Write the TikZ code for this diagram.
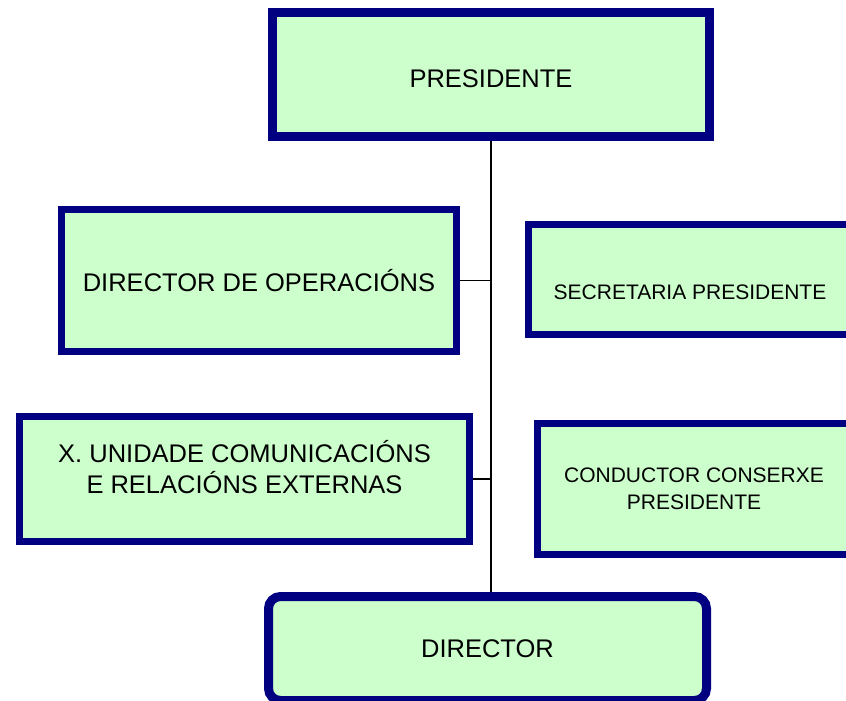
\documentclass[tikz,border=0pt]{standalone}
\usepackage{fontspec}
\setmainfont{Liberation Sans}
\definecolor{boxfill}{HTML}{CCFFCC}
\definecolor{boxline}{HTML}{000080}
\begin{document}
\begin{tikzpicture}[x=1pt,y=-1pt,
  orgbox/.style={draw=boxline, fill=boxfill, line width=7pt, inner sep=0pt, align=center,
                 font=\fontsize{25.5}{31}\selectfont},
  bigbox/.style={orgbox, line width=9pt},
  smalltext/.style={font=\fontsize{21}{26.5}\selectfont},
  link/.style={draw=black, line width=1.8pt}]
\useasboundingbox (0,0) rectangle (846,701);
\clip (0,0) rectangle (846,701);
\node[bigbox, minimum width=437pt, minimum height=124pt, text height=27pt, text depth=0pt] (pres) at (491,74.5) {PRESIDENTE};
\node[orgbox, minimum width=395pt, minimum height=142pt] (dirop) at (259,280.5) {DIRECTOR DE OPERACIÓNS};
\node[orgbox, minimum width=450pt, minimum height=125pt] (xu) at (244.5,479) {X. UNIDADE COMUNICACIÓNS\\ E RELACIÓNS EXTERNAS\\[-7pt]\mbox{}};
\node[orgbox, smalltext, minimum width=323pt, minimum height=110pt, text height=40pt, text depth=0pt] (secr) at (690,279.5) {SECRETARIA PRESIDENTE};
\node[orgbox, smalltext, minimum width=313pt, minimum height=131pt] (cond) at (694,489) {CONDUCTOR CONSERXE\\ PRESIDENTE};
\node[bigbox, rounded corners=12pt, minimum width=438pt, minimum height=104pt] (dir) at (487.5,648.5) {DIRECTOR};
\draw[link] (pres.south) -- (pres.south |- dir.north);
\draw[link] (dirop.east) -- (dirop.east -| pres.south);
\draw[link] (xu.east) -- (xu.east -| pres.south);
\end{tikzpicture}
\end{document}
